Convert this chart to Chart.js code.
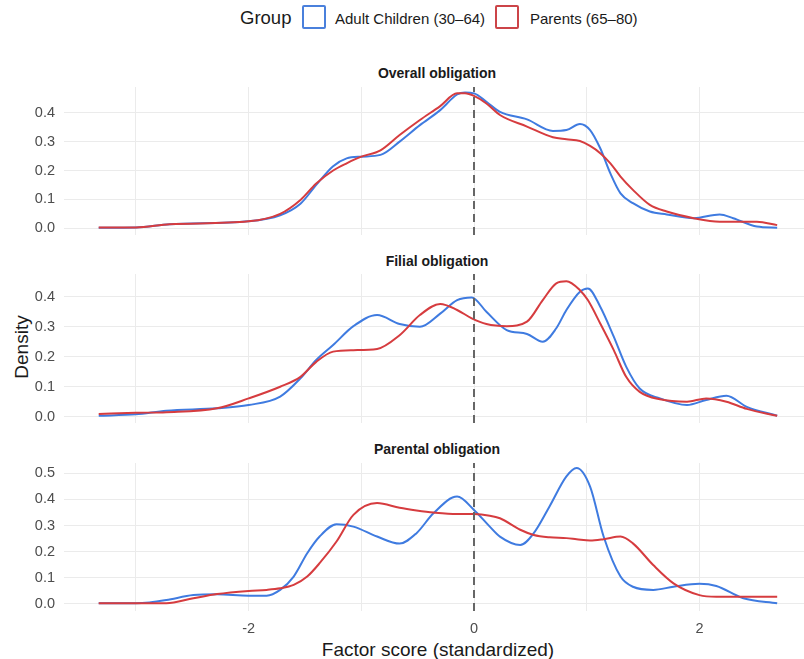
<!DOCTYPE html>
<html>
<head>
<meta charset="utf-8">
<script src="https://cdn.jsdelivr.net/npm/chart.js@4.4.1/dist/chart.umd.min.js"></script>
<style>
  body { margin: 0; background: #fff; width: 804px; height: 659px; position: relative; overflow: hidden;
         font-family: "Liberation Sans", Arial, sans-serif; color: #1a1a1a; }
  canvas { position: absolute; left: 0; }
  .txt { position: absolute; white-space: nowrap; line-height: 1; }
  .strip { font-weight: bold; font-size: 14px; color: #1a1a1a; transform: translate(-50%, -50%); }
  .key { position: absolute; width: 20px; height: 20px; border: 2px solid; border-radius: 2px; background: #fff; }
</style>
</head>
<body>
<div class="txt" style="left:240px;top:9px;font-size:18.5px;">Group</div>
<div class="key" style="left:302px;top:5px;border-color:#4a80dc;"></div>
<div class="txt" style="left:335px;top:11px;font-size:15px;">Adult Children (30–64)</div>
<div class="key" style="left:495px;top:5px;border-color:#cc4448;"></div>
<div class="txt" style="left:530px;top:11px;font-size:15px;">Parents (65–80)</div>

<div class="txt strip" style="left:437px;top:73px;">Overall obligation</div>
<div class="txt strip" style="left:437px;top:261px;">Filial obligation</div>
<div class="txt strip" style="left:437px;top:449px;">Parental obligation</div>

<div class="txt" style="left:21px;top:347px;font-size:19px;transform:translate(-50%,-50%) rotate(-90deg);">Density</div>
<div class="txt" style="left:438px;top:649px;font-size:19px;transform:translate(-50%,-50%);">Factor score (standardized)</div>

<canvas id="c1" width="804" height="188" style="top:67px"></canvas>
<canvas id="c2" width="804" height="189" style="top:254px"></canvas>
<canvas id="c3" width="804" height="198" style="top:443px"></canvas>

<script>
// ---- data ----
const groups = ['Adult Children (30–64)', 'Parents (65–80)'];
const xTicks = [-3, -2, -1, 0, 1, 2];
const xLabelled = [-2, 0, 2];

const overallX = [-3.33, -3.0, -2.7, -2.0, -1.72, -1.54, -1.40, -1.25, -1.13, -1.0, -0.83, -0.66, -0.48, -0.30, -0.15, -0.08, 0, 0.11, 0.23, 0.47, 0.70, 0.82, 0.94, 1.03, 1.12, 1.21, 1.30, 1.41, 1.56, 1.71, 1.95, 2.18, 2.30, 2.51, 2.69];
const overallAdult = [0.002, 0.003, 0.014, 0.024, 0.045, 0.085, 0.15, 0.215, 0.242, 0.248, 0.254, 0.30, 0.357, 0.409, 0.463, 0.47, 0.467, 0.438, 0.403, 0.377, 0.337, 0.34, 0.361, 0.34, 0.277, 0.19, 0.121, 0.087, 0.058, 0.048, 0.035, 0.048, 0.035, 0.006, 0.002];
const overallParents = [0.003, 0.003, 0.014, 0.024, 0.05, 0.098, 0.155, 0.20, 0.225, 0.248, 0.27, 0.323, 0.375, 0.423, 0.467, 0.467, 0.458, 0.432, 0.392, 0.352, 0.315, 0.308, 0.302, 0.285, 0.26, 0.225, 0.179, 0.133, 0.081, 0.058, 0.035, 0.023, 0.023, 0.023, 0.011];

const filialX = [-3.33, -3.0, -2.73, -2.28, -2.0, -1.72, -1.54, -1.40, -1.25, -1.07, -0.86, -0.66, -0.48, -0.30, -0.15, -0.02, 0.11, 0.29, 0.47, 0.61, 0.73, 0.82, 0.94, 1.01, 1.12, 1.24, 1.35, 1.47, 1.65, 1.89, 2.06, 2.24, 2.42, 2.69];
const filialAdult = [0.003, 0.008, 0.02, 0.028, 0.039, 0.067, 0.128, 0.189, 0.239, 0.302, 0.339, 0.309, 0.30, 0.344, 0.389, 0.398, 0.35, 0.289, 0.276, 0.25, 0.295, 0.356, 0.417, 0.428, 0.367, 0.267, 0.167, 0.094, 0.061, 0.039, 0.056, 0.07, 0.033, 0.003];
const filialParents = [0.009, 0.013, 0.015, 0.028, 0.061, 0.10, 0.133, 0.183, 0.217, 0.222, 0.226, 0.272, 0.339, 0.376, 0.356, 0.328, 0.309, 0.302, 0.317, 0.389, 0.445, 0.452, 0.422, 0.389, 0.311, 0.222, 0.133, 0.083, 0.058, 0.05, 0.061, 0.05, 0.026, 0.003];

const parentalX = [-3.33, -3.0, -2.88, -2.73, -2.49, -2.28, -2.0, -1.84, -1.72, -1.60, -1.48, -1.37, -1.22, -1.07, -0.86, -0.66, -0.51, -0.36, -0.15, 0, 0.14, 0.23, 0.41, 0.53, 0.67, 0.82, 0.91, 1.03, 1.15, 1.30, 1.41, 1.59, 1.77, 2.0, 2.15, 2.39, 2.69];
const parentalAdult = [0.003, 0.003, 0.006, 0.015, 0.034, 0.037, 0.032, 0.032, 0.054, 0.105, 0.194, 0.258, 0.305, 0.296, 0.258, 0.231, 0.271, 0.347, 0.411, 0.36, 0.296, 0.258, 0.226, 0.271, 0.373, 0.488, 0.52, 0.449, 0.258, 0.105, 0.066, 0.054, 0.066, 0.077, 0.069, 0.022, 0.003];
const parentalParents = [0.003, 0.003, 0.003, 0.003, 0.022, 0.038, 0.05, 0.054, 0.06, 0.073, 0.105, 0.156, 0.239, 0.341, 0.386, 0.368, 0.358, 0.35, 0.344, 0.344, 0.338, 0.328, 0.284, 0.264, 0.255, 0.252, 0.248, 0.243, 0.248, 0.258, 0.232, 0.149, 0.079, 0.034, 0.028, 0.028, 0.028];

// ---- styling ----
const blue = '#3f7be0';
const red = '#d63c3f';
const gridColor = '#ebebeb';
const tickColor = '#4d4d4d';
const xMin = -3.638, xMax = 2.928;

function pts(xs, ys) {
  return xs.map((x, i) => ({ x: x, y: ys[i] }));
}

function densityPanel(id, xs, adult, parents, yMin, yMax, yTop, showX) {
  const yTicks = [];
  for (let v = 0; v <= yTop + 1e-9; v += 0.05) yTicks.push(+v.toFixed(2));
  const lineStyle = { borderWidth: 2, pointRadius: 0, fill: false, cubicInterpolationMode: 'monotone' };

  return new Chart(document.getElementById(id), {
    type: 'line',
    data: {
      datasets: [
        { label: groups[0], data: pts(xs, adult), borderColor: blue, order: 2, ...lineStyle },
        { label: groups[1], data: pts(xs, parents), borderColor: red, order: 1, ...lineStyle },
        { label: 'zero', data: [{ x: 0, y: yMin }, { x: 0, y: yMax }], borderColor: '#666666',
          borderWidth: 2, borderDash: [8, 5], pointRadius: 0, tension: 0, order: 0 },
      ],
    },
    options: {
      responsive: false,
      animation: false,
      events: [],
      // the y ticks ask for ~18px below the plot; hidden x axes leave it to padding
      layout: { padding: { top: 20, left: 0, right: 0, bottom: showX ? 0 : 20 } },
      plugins: { legend: { display: false }, tooltip: { enabled: false } },
      scales: {
        x: {
          type: 'linear',
          min: xMin,
          max: xMax,
          afterBuildTicks: s => { s.ticks = xTicks.map(v => ({ value: v })); },
          afterFit: s => { s.height = showX ? 30 : 0; },
          grid: { color: gridColor, lineWidth: 1, drawTicks: false },
          border: { display: false },
          ticks: {
            display: showX,
            padding: 9,
            color: tickColor,
            font: { family: 'Liberation Sans', size: 14.5 },
            callback: v => (xLabelled.includes(v) ? String(v) : ''),
          },
        },
        y: {
          min: yMin,
          max: yMax,
          afterBuildTicks: s => { s.ticks = yTicks.map(v => ({ value: v })); },
          afterFit: s => { s.width = 64; },
          grid: { color: gridColor, lineWidth: 1, drawTicks: false },
          border: { display: false },
          ticks: {
            padding: 9,
            color: tickColor,
            font: { family: 'Liberation Sans', size: 14.5 },
            callback: v => (Math.round(v * 100) % 10 === 0 ? v.toFixed(1) : ''),
          },
        },
      },
    },
  });
}

densityPanel('c1', overallX, overallAdult, overallParents, -0.0232, 0.489, 0.45, false);
densityPanel('c2', filialX, filialAdult, filialParents, -0.021, 0.476, 0.45, false);
densityPanel('c3', parentalX, parentalAdult, parentalParents, -0.0268, 0.5394, 0.5, true);
</script>
</body>
</html>
